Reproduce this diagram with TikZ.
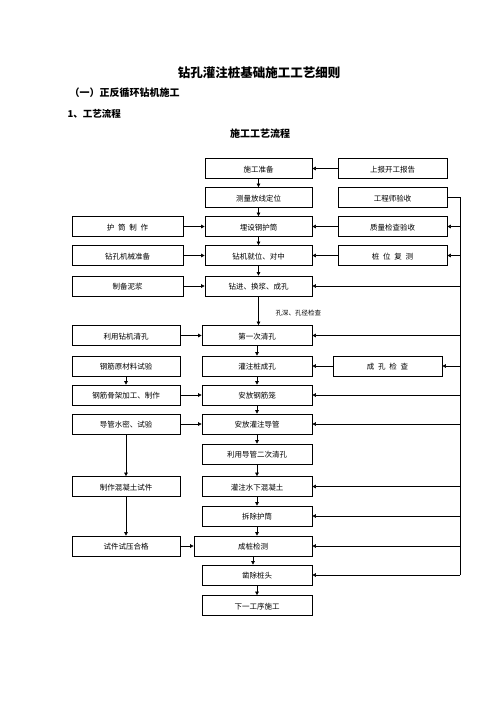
\documentclass[tikz,border=0pt]{standalone}
\usepackage{fontspec}
\setmainfont{Noto Sans CJK SC}
\usepackage{tikz}
\usetikzlibrary{arrows.meta}
\usetikzlibrary{positioning}

\begin{document}
\begin{tikzpicture}[x=1pt,y=-1pt,
    gybox/.style={draw,line width=0.7pt,minimum height=20pt,inner sep=0pt,
        text height=7pt,text depth=0pt,font=\fontsize{7.5}{9}\selectfont},
    jt/.style={line width=0.6pt,-{Triangle[length=3.5pt,width=3.5pt]}}]

       \useasboundingbox (0,0) rectangle (496,702);

       % headings
       \node[font=\fontsize{12.5}{14}\selectfont\bfseries] (biaoti) at (259,73) {钻孔灌注桩基础施工工艺细则};
       \node[font=\fontsize{10}{12}\selectfont\bfseries,anchor=west] (yi) at (66,93) {（一）正反循环钻机施工};
       \node[font=\fontsize{9.5}{12}\selectfont\bfseries,anchor=west] (liucheng) at (64,114) {1、工艺流程};
       \node[font=\fontsize{10}{12}\selectfont\bfseries] (tu) at (260,134) {施工工艺流程};

       % middle column
       \node[gybox,minimum width=107pt] (zhunbei) at (258.5,168.5) {施工准备};
       \node[gybox,minimum width=107pt] (celiang) at (258.5,197.5) {测量放线定位};
       \node[gybox,minimum width=107pt] (maishe) at (258.5,226.5) {埋设钢护筒};
       \node[gybox,minimum width=107pt] (jiuwei) at (258.5,255.5) {钻机就位、对中};
       \node[gybox,minimum width=107pt] (zuanjin) at (258.5,286) {钻进、换浆、成孔};
       \node[gybox,minimum width=110pt] (qingkong1) at (257,335.5) {第一次清孔};
       \node[gybox,minimum width=110pt] (chengkong) at (257,366) {灌注桩成孔};
       \node[gybox,minimum width=110pt] (fanglong) at (257,395) {安放钢筋笼};
       \node[gybox,minimum width=110pt] (anzhuang) at (257,424) {安放灌注导管};
       \node[gybox,minimum width=110pt] (qingkong2) at (257,454) {利用导管二次清孔};
       \node[gybox,minimum width=110pt] (guanzhu) at (257,486.5) {灌注水下混凝土};
       \node[gybox,minimum width=110pt] (chachu) at (257,516) {拆除护筒};
       \node[gybox,minimum width=118pt] (chengzhuang) at (253,546) {成桩检测};
       \node[gybox,minimum width=110pt] (zaochu) at (257,575) {凿除桩头};
       \node[gybox,minimum width=110pt] (xiayi) at (257,605.5) {下一工序施工};

       % right column
       \node[gybox,minimum width=109pt] (shangbao) at (392.5,168.5) {上报开工报告};
       \node[gybox,minimum width=109pt] (yanshou) at (392.5,197.5) {工程师验收};
       \node[gybox,minimum width=109pt] (jiance) at (392.5,226.5) {质量检查验收};
       \node[gybox,minimum width=109pt] (fuce) at (392.5,255.5) {桩\enspace 位\enspace 复\enspace 测};
       \node[gybox,minimum width=109pt] (jiancha) at (387.5,366) {成\enspace 孔\enspace 检\enspace 查};

       % left column
       \node[gybox,minimum width=111pt] (zhizuo) at (127.5,226.5) {护\enspace 筒\enspace 制\enspace 作};
       \node[gybox,minimum width=111pt] (jixie) at (127.5,255.5) {钻孔机械准备};
       \node[gybox,minimum width=111pt] (nijiang) at (127.5,286) {制备泥浆};
       \node[gybox,minimum width=108pt] (likong) at (126,335.5) {利用钻机清孔};
       \node[gybox,minimum width=108pt] (yuancai) at (126,366) {钢筋原材料试验};
       \node[gybox,minimum width=108pt] (gujia) at (126,395) {钢筋骨架加工、制作};
       \node[gybox,minimum width=108pt] (daoguan) at (126,424) {导管水密、试验};
       \node[gybox,minimum width=108pt] (shijian) at (126,486.5) {制作混凝土试件};
       \node[gybox,minimum width=108pt] (shiya) at (126,546) {试件试压合格};

       % main flow
       \foreach \a/\b in {zhunbei/celiang, celiang/maishe, maishe/jiuwei, jiuwei/zuanjin,
           zuanjin/qingkong1, qingkong1/chengkong, chengkong/fanglong, fanglong/anzhuang,
           anzhuang/qingkong2, qingkong2/guanzhu, guanzhu/chachu, chachu/chengzhuang,
           chengzhuang/zaochu, zaochu/xiayi}
           \draw[jt] (\a.south) -- (\a.south |- \b.north);
       \node[font=\fontsize{6.5}{8}\selectfont,anchor=west] (kongshen) at (272,313) {孔深、孔径检查};

       % left inputs
       \foreach \a/\b in {zhizuo/maishe, jixie/jiuwei, nijiang/zuanjin, likong/qingkong1,
           gujia/fanglong, daoguan/anzhuang, shiya/chengzhuang}
           \draw[jt] (\a.east) -- (\b.west);
       \foreach \a/\b in {yuancai/gujia, daoguan/shijian, shijian/shiya}
           \draw[jt] (\a.south) -- (\b.north);

       % right inputs
       \foreach \a/\b in {shangbao/zhunbei, jiance/maishe, fuce/jiuwei, jiancha/chengkong}
           \draw[jt] (\a.west) -- (\b.east);

       % inspection line
       \coordinate (bus) at (460,197.5);
       \draw[line width=0.6pt] (yanshou.east) -- (bus) -- (bus |- zaochu.east);
       \foreach \b in {jiance, fuce, zuanjin, qingkong1, jiancha, fanglong, anzhuang,
           guanzhu, chachu, chengzhuang, zaochu}
           \draw[jt] (bus |- \b.east) -- (\b.east);

\end{tikzpicture}
\end{document}
